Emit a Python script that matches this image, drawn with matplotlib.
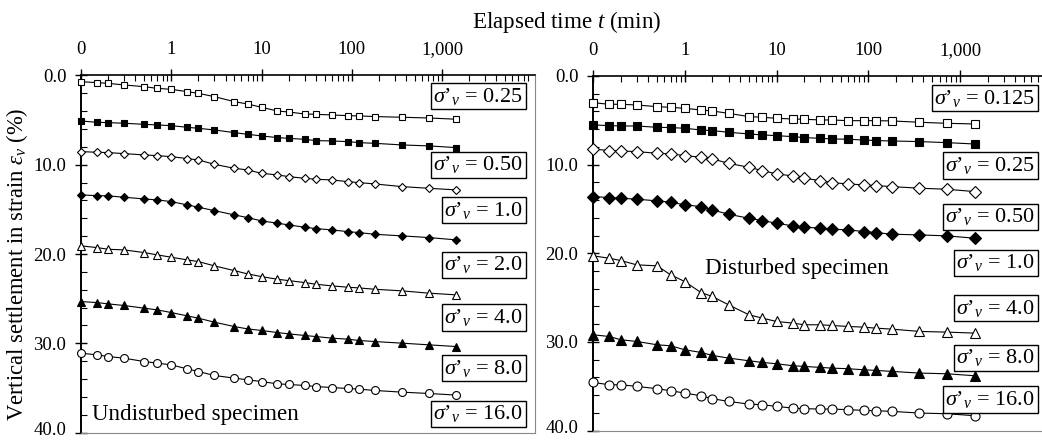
import matplotlib
matplotlib.use("Agg")
import matplotlib.pyplot as plt
from matplotlib.ticker import FixedLocator, FixedFormatter, LogLocator, MultipleLocator, NullFormatter
from matplotlib.transforms import ScaledTranslation

plt.rcParams['font.family'] = ['Liberation Serif', 'DejaVu Serif']
plt.rcParams['mathtext.fontset'] = 'custom'
plt.rcParams['mathtext.rm'] = 'Liberation Serif'
plt.rcParams['mathtext.it'] = 'Liberation Serif:italic'

# ---------------- data ----------------
times = [0.1, 0.15, 0.2, 0.3, 0.5, 0.7, 1, 1.5, 2, 3, 5, 7, 10, 15, 20, 30,
         40, 60, 90, 120, 180, 360, 720, 1440]
tick_values = [0.1, 1, 10, 100, 1000]
tick_labels = ['0', '1', '10', '100', '1,000']

und_labels = ['0.25', '0.50', '1.0', '2.0', '4.0', '8.0', '16.0']
und_s1 = [0.69, 0.80, 0.88, 1.06, 1.25, 1.44, 1.55, 1.81, 2.0, 2.37, 2.93, 3.19, 3.56, 3.98, 4.09, 4.31, 4.35, 4.42, 4.5, 4.53, 4.6, 4.68, 4.76, 4.9]
und_s2 = [5.10, 5.24, 5.28, 5.35, 5.47, 5.54, 5.62, 5.80, 5.92, 6.10, 6.40, 6.59, 6.77, 6.96, 7.04, 7.15, 7.30, 7.33, 7.41, 7.52, 7.60, 7.78, 7.89, 8.08]
und_s3 = [8.53, 8.60, 8.64, 8.75, 8.90, 8.98, 9.09, 9.31, 9.46, 9.95, 10.40, 10.58, 10.96, 11.14, 11.33, 11.52, 11.63, 11.70, 11.89, 12.0, 12.15, 12.45, 12.64, 12.82]
und_s4 = [13.38, 13.46, 13.49, 13.64, 13.83, 13.94, 14.13, 14.50, 14.76, 15.14, 15.62, 15.92, 16.29, 16.55, 16.74, 17.0, 17.15, 17.30, 17.49, 17.60, 17.79, 17.97, 18.16, 18.42]
und_s5 = [19.09, 19.28, 19.47, 19.54, 19.84, 20.10, 20.36, 20.66, 20.85, 21.33, 21.86, 22.23, 22.53, 22.83, 22.98, 23.20, 23.39, 23.57, 23.72, 23.80, 23.95, 24.13, 24.39, 24.58]
und_s6 = [25.33, 25.44, 25.59, 25.77, 26.07, 26.26, 26.56, 26.93, 27.19, 27.64, 28.13, 28.39, 28.57, 28.80, 28.95, 29.13, 29.25, 29.43, 29.54, 29.69, 29.81, 29.99, 30.18, 30.37]
und_s7 = [31.11, 31.30, 31.49, 31.67, 32.05, 32.23, 32.42, 32.87, 33.17, 33.61, 33.91, 34.10, 34.29, 34.55, 34.62, 34.73, 34.85, 34.96, 35.07, 35.14, 35.29, 35.48, 35.63, 35.81]

dis_labels = ['0.125', '0.25', '0.50', '1.0', '4.0', '8.0', '16.0']
dis_s1 = [3.01, 3.19, 3.19, 3.27, 3.46, 3.53, 3.65, 3.83, 3.95, 4.21, 4.58, 4.66, 4.77, 4.85, 4.88, 4.96, 4.96, 5.04, 5.04, 5.04, 5.07, 5.22, 5.34, 5.41]
dis_s2 = [5.52, 5.60, 5.64, 5.64, 5.79, 5.82, 5.90, 6.09, 6.16, 6.35, 6.54, 6.65, 6.73, 6.84, 6.95, 7.03, 7.10, 7.14, 7.22, 7.29, 7.33, 7.40, 7.52, 7.67]
dis_s3 = [8.23, 8.42, 8.46, 8.53, 8.72, 8.79, 8.98, 9.17, 9.36, 9.85, 10.30, 10.67, 11.05, 11.27, 11.54, 11.80, 12.03, 12.18, 12.29, 12.36, 12.48, 12.66, 12.78, 13.04]
dis_s4 = [13.60, 13.72, 13.79, 13.90, 14.09, 14.24, 14.54, 14.73, 15.11, 15.60, 16.05, 16.31, 16.61, 16.91, 17.06, 17.17, 17.29, 17.36, 17.55, 17.66, 17.85, 17.93, 18.04, 18.30]
dis_s5 = [20.29, 20.56, 20.82, 21.31, 21.42, 22.43, 23.19, 24.43, 24.88, 25.82, 26.94, 27.32, 27.70, 27.88, 28.07, 28.07, 28.15, 28.26, 28.34, 28.45, 28.56, 28.82, 28.90, 29.01]
dis_s6 = [29.20, 29.39, 29.76, 29.95, 30.33, 30.44, 30.89, 31.19, 31.53, 31.83, 32.13, 32.32, 32.47, 32.69, 32.77, 32.88, 32.96, 33.03, 33.15, 33.22, 33.33, 33.52, 33.60, 33.82]
dis_s7 = [34.57, 34.84, 34.84, 35.02, 35.29, 35.51, 35.78, 36.08, 36.41, 36.72, 37.02, 37.09, 37.28, 37.47, 37.54, 37.58, 37.58, 37.65, 37.73, 37.77, 37.84, 38.03, 38.11, 38.33]

# label box vertical positions (layout)
und_label_y = [2.3, 10.0, 15.1, 21.2, 27.1, 32.8, 37.9]
dis_label_y = [2.5, 10.1, 15.9, 21.1, 26.2, 31.8, 36.5]

# marker styles per series: (marker, filled)
styles = [('s', False), ('s', True), ('D', False), ('D', True),
          ('^', False), ('^', True), ('o', False)]
und_sizes = [4.7, 4.7, 4.4, 4.4, 5.7, 5.7, 5.7]
dis_sizes = [5.5, 5.5, 6.0, 6.0, 7.5, 7.0, 6.5]

W, H = 1042, 440
fig = plt.figure(figsize=(W / 100, H / 100), dpi=100)

decades = 5.03
xmax = 0.1 * 10 ** decades

def make_ax(left_px, top_px, bottom_px, decade_px):
    width_px = decades * decade_px
    return fig.add_axes([left_px / W, 1 - bottom_px / H, width_px / W, (bottom_px - top_px) / H])

ax1 = make_ax(81, 75.5, 432.5, 90.26)
ax2 = make_ax(593, 76, 430.5, 91.75)

def setup(ax):
    ax.set_xscale('log')
    ax.set_xlim(0.1, xmax)
    ax.set_ylim(40, 0)
    ax.xaxis.tick_top()
    ax.xaxis.set_major_locator(FixedLocator(tick_values))
    ax.xaxis.set_major_formatter(FixedFormatter(tick_labels))
    ax.xaxis.set_minor_locator(LogLocator(base=10, subs=[2, 3, 4, 5, 6, 7, 8, 9], numticks=20))
    ax.xaxis.set_minor_formatter(NullFormatter())
    ax.yaxis.set_major_locator(FixedLocator([0, 10, 20, 30, 40]))
    ax.yaxis.set_major_formatter(FixedFormatter(['0.0', '10.0', '20.0', '30.0', '40.0']))
    ax.yaxis.set_minor_locator(MultipleLocator(2))
    ax.tick_params(axis='both', which='major', direction='inout', length=9, width=1.0,
                   labelsize=13.5, pad=6, colors='black')
    ax.tick_params(axis='both', which='minor', direction='in', length=4, width=0.8)
    ax.tick_params(axis='x', which='major', pad=8)
    ax.spines['left'].set_linewidth(1.4)
    ax.spines['top'].set_linewidth(1.2)
    for s in ('right', 'bottom'):
        ax.spines[s].set_color('#888888')
        ax.spines[s].set_linewidth(0.8)
    ax.set_facecolor('none')
    # nudge the bottom tick label up slightly so it stays inside the figure
    ticks = ax.yaxis.get_major_ticks()
    lab = ticks[-1].label1
    lab.set_transform(lab.get_transform() + ScaledTranslation(0, 3 / 72, fig.dpi_scale_trans))

def draw(ax, series, sizes, labels, label_y, box_right):
    for vals, (mk, filled), ms in zip(series, styles, sizes):
        ax.plot(times, vals, color='black', lw=0.8, marker=mk, ms=ms,
                markerfacecolor='black' if filled else 'white',
                markeredgecolor='black', markeredgewidth=0.8, clip_on=False, zorder=3)
    for lab, yy in zip(labels, label_y):
        ax.text(box_right, yy, r"$\sigma$’$_v$ = " + lab, transform=ax.get_yaxis_transform(),
                ha='right', va='center', fontsize=16,
                bbox=dict(boxstyle='square,pad=0.12', facecolor='white', edgecolor='black', lw=1.0),
                zorder=5)

setup(ax1)
setup(ax2)
draw(ax1, [und_s1, und_s2, und_s3, und_s4, und_s5, und_s6, und_s7], und_sizes,
     und_labels, und_label_y, (523 - 81) / (decades * 90.26))
draw(ax2, [dis_s1, dis_s2, dis_s3, dis_s4, dis_s5, dis_s6, dis_s7], dis_sizes,
     dis_labels, dis_label_y, (1035 - 593) / (decades * 91.75))

ax1.text(0.024, 0.05, 'Undisturbed specimen', transform=ax1.transAxes,
         ha='left', va='center', fontsize=16.6)
ax2.text(0.243, 0.458, 'Disturbed specimen', transform=ax2.transAxes,
         ha='left', va='center', fontsize=16.6)

fig.text(567 / W, 1 - 22 / H, 'Elapsed time $t$ (min)', ha='center', va='center', fontsize=16.6)
fig.text(17 / W, 1 - 264 / H, r'Vertical settlement in strain $\varepsilon_v$ (%)',
         ha='center', va='center', rotation=90, fontsize=16.3)

fig.savefig('out.png', dpi=100)
